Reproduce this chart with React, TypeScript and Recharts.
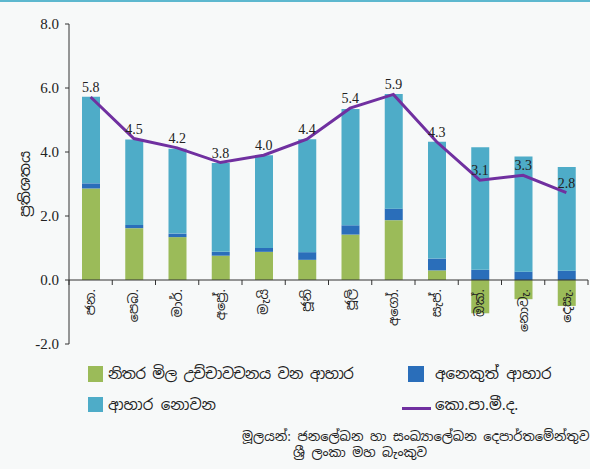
import React from 'react';
import { ComposedChart, Bar, Line, XAxis, YAxis, ReferenceLine, LabelList } from 'recharts';

const months = ['ජන.', 'පෙබ.', 'මාර්.', 'අප්‍රේ.', 'මැයි', 'ජූනි', 'ජූලි', 'අගෝ.', 'සැප්.', 'ඔක්.', 'නොවැ.', 'දෙසැ.'];
const volatileFood = [2.86, 1.62, 1.34, 0.76, 0.88, 0.63, 1.42, 1.87, 0.3, -1.04, -0.6, -0.81];
const otherFood = [0.16, 0.1, 0.11, 0.12, 0.12, 0.24, 0.29, 0.36, 0.37, 0.32, 0.26, 0.29];
const nonFood = [2.71, 2.67, 2.65, 2.78, 2.9, 3.53, 3.63, 3.58, 3.65, 3.83, 3.6, 3.24];
const ccpi = [5.72, 4.42, 4.13, 3.67, 3.9, 4.4, 5.37, 5.8, 4.32, 3.12, 3.27, 2.73];
const ccpiLabels = ['5.8', '4.5', '4.2', '3.8', '4.0', '4.4', '5.4', '5.9', '4.3', '3.1', '3.3', '2.8'];
const yTicks = [-2, 0, 2, 4, 6, 8];

const data = months.map((m, i) => ({
  month: m,
  volatile: volatileFood[i],
  other: otherFood[i],
  nonfood: nonFood[i],
  ccpi: ccpi[i],
  lbl: ccpiLabels[i],
}));

const W = 590;
const H = 469;
const Y_MIN = -2;
const Y_MAX = 8;
const MARGIN = { top: 24, right: 2, left: 0, bottom: 95 };
const X_AXIS_H = 30;
const PLOT_H = H - MARGIN.top - MARGIN.bottom - X_AXIS_H;
const ZERO_Y = MARGIN.top + (PLOT_H * Y_MAX) / (Y_MAX - Y_MIN);

const GREEN = '#9BBB59';
const DARK = '#2A6EBA';
const LIGHT = '#4EACC8';
const PURPLE = '#7030A0';
const SIN = "'Noto Sans Sinhala', 'Noto Sans', 'DejaVu Sans', sans-serif";
const SERIF = "'Liberation Serif', 'DejaVu Serif', serif";

const MonthTick = (props: any) => {
  const { x, payload, index } = props;
  const half = payload && payload.offset ? payload.offset : (W - 69 - MARGIN.right) / months.length / 2;
  const left = x - half;
  const right = x + half;
  return (
    <g>
      <line x1={left} x2={left} y1={ZERO_Y} y2={ZERO_Y + 5} stroke="#333" strokeWidth={1} />
      {index === months.length - 1 && (
        <line x1={right} x2={right} y1={ZERO_Y} y2={ZERO_Y + 5} stroke="#333" strokeWidth={1} />
      )}
      <text
        x={0}
        y={0}
        transform={`translate(${x},${ZERO_Y + 9}) rotate(-90)`}
        textAnchor="end"
        dy="0.35em"
        fontFamily={SIN}
        fontSize={13}
        fill="#222"
      >
        {payload.value}
      </text>
    </g>
  );
};

const YLabel = (props: any) => {
  const vb = props.viewBox || { x: 0, y: MARGIN.top, width: 69, height: PLOT_H };
  const cx = vb.x + 25;
  const cy = vb.y + vb.height / 2;
  return (
    <text
      transform={`translate(${cx},${cy}) rotate(-90)`}
      textAnchor="middle"
      dy="0.35em"
      fontFamily={SIN}
      fontSize={15}
      fill="#222"
    >
      ප්‍රතිශතය
    </text>
  );
};

const legendText: React.CSSProperties = {
  position: 'absolute',
  fontFamily: SIN,
  fontSize: 15,
  color: '#222',
  whiteSpace: 'nowrap',
  lineHeight: '16px',
};

export default function App() {
  return (
    <div
      style={{
        position: 'absolute',
        left: 0,
        top: 0,
        width: W,
        height: H,
        background: '#F7F9F9',
        overflow: 'hidden',
      }}
    >
      <div style={{ position: 'absolute', left: 0, top: 0, width: W, height: 2, background: '#5DB8CF' }} />
      <ComposedChart
        width={W}
        height={H}
        data={data}
        margin={MARGIN}
        stackOffset="sign"
        barSize={18}
      >
        <XAxis
          dataKey="month"
          height={X_AXIS_H}
          axisLine={false}
          tickLine={false}
          tick={<MonthTick />}
          interval={0}
        />
        <YAxis
          domain={[Y_MIN, Y_MAX]}
          ticks={yTicks}
          width={69}
          tickFormatter={(v: number) => v.toFixed(1)}
          tick={{ fontFamily: SERIF, fontSize: 15, fill: '#222' }}
          axisLine={{ stroke: '#333' }}
          tickLine={{ stroke: '#333' }}
          tickSize={4}
          tickMargin={6}
          label={<YLabel />}
          allowDataOverflow
        />
        <Bar dataKey="volatile" stackId="a" fill={GREEN} isAnimationActive={false} />
        <Bar dataKey="other" stackId="a" fill={DARK} isAnimationActive={false} />
        <Bar dataKey="nonfood" stackId="a" fill={LIGHT} isAnimationActive={false} />
        <ReferenceLine y={0} stroke="#333" strokeWidth={1} />
        <Line
          dataKey="ccpi"
          stroke={PURPLE}
          strokeWidth={3}
          dot={false}
          activeDot={false}
          isAnimationActive={false}
        >
          <LabelList
            dataKey="lbl"
            position="top"
            offset={5}
            style={{ fontFamily: SERIF, fontSize: 14, fill: '#222' }}
          />
        </Line>
      </ComposedChart>

      <div style={{ position: 'absolute', left: 88, top: 366, width: 15, height: 16, background: GREEN }} />
      <div style={{ ...legendText, left: 108, top: 366, letterSpacing: '-0.6px' }}>නිතර මිල උච්චාවචනය වන ආහාර</div>
      <div style={{ position: 'absolute', left: 408, top: 366, width: 16, height: 16, background: DARK }} />
      <div style={{ ...legendText, left: 435, top: 366 }}>අනෙකුත් ආහාර</div>
      <div style={{ position: 'absolute', left: 88, top: 397, width: 15, height: 15, background: LIGHT }} />
      <div style={{ ...legendText, left: 108, top: 397 }}>ආහාර නොවන</div>
      <div style={{ position: 'absolute', left: 402, top: 407, width: 29, height: 3, background: PURPLE }} />
      <div style={{ ...legendText, left: 435, top: 397 }}>කො.පා.මී.ද.</div>

      <div style={{ ...legendText, fontSize: 13, left: 242, top: 429 }}>
        මූලයන්: ජනලේඛන හා සංඛ්‍යාලේඛන දෙපාර්තමේන්තුව
      </div>
      <div style={{ ...legendText, fontSize: 13, left: 293, top: 445 }}>ශ්‍රී ලංකා මහ බැංකුව</div>
    </div>
  );
}
